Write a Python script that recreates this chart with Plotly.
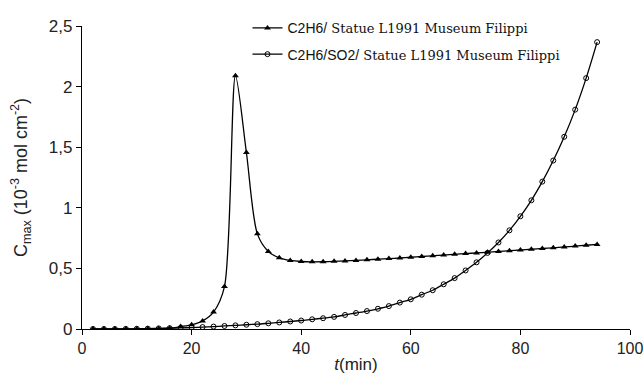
import plotly.graph_objects as go

# Time axis (min), sampled every 2 minutes
t_min = list(range(2, 96, 2))

# C2H6 only
c2h6 = [0.0, 0.0, 0.0, 0.0, 0.0, 0.002, 0.003, 0.006, 0.02, 0.035,
        0.067, 0.14, 0.35, 2.09, 1.456, 0.785, 0.64, 0.587, 0.566, 0.557,
        0.554, 0.555, 0.558, 0.562, 0.566, 0.571, 0.576, 0.581, 0.586, 0.592,
        0.598, 0.604, 0.61, 0.616, 0.622, 0.628, 0.634, 0.64, 0.646, 0.652,
        0.658, 0.664, 0.67, 0.677, 0.684, 0.691, 0.698]

# C2H6 with SO2
c2h6_so2 = [0.0, 0.0, 0.0, 0.001, 0.002, 0.003, 0.005, 0.007, 0.009, 0.012,
            0.016, 0.02, 0.025, 0.03, 0.035, 0.04, 0.047, 0.054, 0.062, 0.07,
            0.08, 0.089, 0.1, 0.116, 0.132, 0.148, 0.167, 0.189, 0.218, 0.245,
            0.283, 0.32, 0.369, 0.42, 0.483, 0.55, 0.628, 0.714, 0.814, 0.93,
            1.062, 1.216, 1.39, 1.586, 1.81, 2.07, 2.367]

# Legend labels: gas part in sans, sample description in serif
gas_labels = ["C2H6/", "C2H6/SO2/"]
sample_label = " Statue L1991 Museum Filippi"
serif_span = "<span style='font-family:DejaVu Serif, serif; font-size:13px'>{}</span>"
names = [g + serif_span.format(sample_label) for g in gas_labels]

x_ticks = [0, 20, 40, 60, 80, 100]
y_ticks = [0, 0.5, 1, 1.5, 2, 2.5]
y_tick_text = ["0", "0,5", "1", "1,5", "2", "2,5"]

fig = go.Figure()
fig.add_trace(go.Scatter(
    x=t_min, y=c2h6, name=names[0], mode="lines+markers",
    line=dict(color="black", width=1.3, shape="spline", smoothing=0.8),
    marker=dict(symbol="triangle-up", size=6, color="black"),
    legendgroup="a",
))
fig.add_trace(go.Scatter(
    x=t_min, y=c2h6_so2, name=names[1], mode="lines+markers",
    line=dict(color="black", width=1.3, shape="spline", smoothing=0.8),
    marker=dict(symbol="circle-open", size=5, color="black", line=dict(width=1)),
    legendgroup="b",
))

sans = "Liberation Sans, Arial, sans-serif"

fig.update_layout(
    width=644, height=378,
    margin=dict(l=82, r=14, t=20, b=49),
    paper_bgcolor="white", plot_bgcolor="white",
    showlegend=True,
    legend=dict(
        x=0.302, y=1.045, xanchor="left", yanchor="top",
        font=dict(family=sans, size=14, color="#111"),
        traceorder="grouped", tracegroupgap=5,
        bgcolor="rgba(0,0,0,0)", itemwidth=30,
    ),
    xaxis=dict(
        range=[0, 100], tickvals=x_ticks, showgrid=False, zeroline=False,
        showline=True, linecolor="black", linewidth=1.2,
        ticks="outside", ticklen=5, tickcolor="black", tickwidth=1.2,
        tickfont=dict(family=sans, size=16, color="#222"),
        automargin=False, ticklabeloverflow="allow",
        title=dict(text="<i>t</i>(min)", font=dict(family=sans, size=17, color="#222"),
                   standoff=1),
    ),
    yaxis=dict(
        range=[0, 2.5], tickvals=y_ticks, ticktext=y_tick_text,
        showgrid=False, zeroline=False,
        showline=True, linecolor="black", linewidth=1.2,
        ticks="outside", ticklen=5, tickcolor="black", tickwidth=1.2,
        tickfont=dict(family=sans, size=17, color="#222"), automargin=False,
        title=dict(text="C<sub>max</sub> (10<sup>-3</sup> mol cm<sup>-2</sup>)",
                   font=dict(family=sans, size=18, color="#222"),
                   standoff=16),
    ),
)

fig.write_html("out.html")
